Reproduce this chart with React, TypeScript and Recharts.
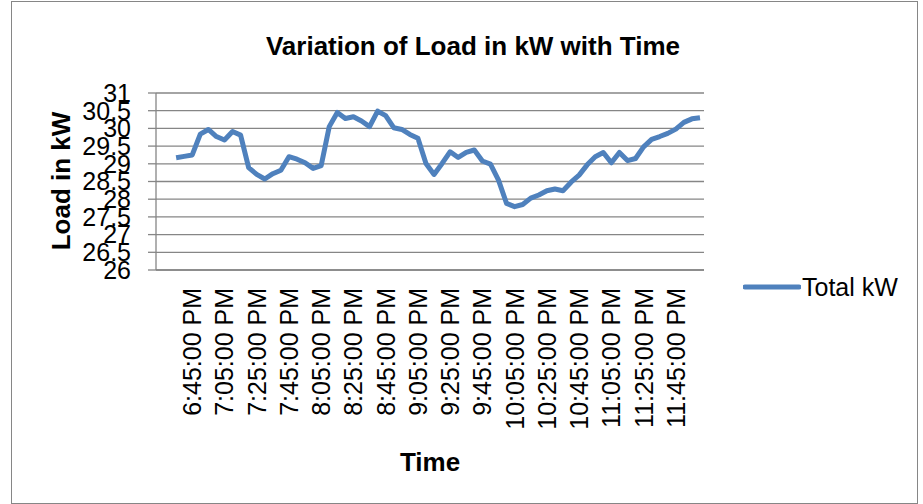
import { LineChart, Line, XAxis, YAxis, CartesianGrid, Legend } from "recharts";

// 5-minute readings, 6:25 PM to 12:00 AM (first two slots are empty)
const times = [
  "6:25:00 PM", "6:30:00 PM", "6:35:00 PM", "6:40:00 PM", "6:45:00 PM", "6:50:00 PM", "6:55:00 PM", "7:00:00 PM",
  "7:05:00 PM", "7:10:00 PM", "7:15:00 PM", "7:20:00 PM", "7:25:00 PM", "7:30:00 PM", "7:35:00 PM", "7:40:00 PM",
  "7:45:00 PM", "7:50:00 PM", "7:55:00 PM", "8:00:00 PM", "8:05:00 PM", "8:10:00 PM", "8:15:00 PM", "8:20:00 PM",
  "8:25:00 PM", "8:30:00 PM", "8:35:00 PM", "8:40:00 PM", "8:45:00 PM", "8:50:00 PM", "8:55:00 PM", "9:00:00 PM",
  "9:05:00 PM", "9:10:00 PM", "9:15:00 PM", "9:20:00 PM", "9:25:00 PM", "9:30:00 PM", "9:35:00 PM", "9:40:00 PM",
  "9:45:00 PM", "9:50:00 PM", "9:55:00 PM", "10:00:00 PM", "10:05:00 PM", "10:10:00 PM", "10:15:00 PM", "10:20:00 PM",
  "10:25:00 PM", "10:30:00 PM", "10:35:00 PM", "10:40:00 PM", "10:45:00 PM", "10:50:00 PM", "10:55:00 PM", "11:00:00 PM",
  "11:05:00 PM", "11:10:00 PM", "11:15:00 PM", "11:20:00 PM", "11:25:00 PM", "11:30:00 PM", "11:35:00 PM", "11:40:00 PM",
  "11:45:00 PM", "11:50:00 PM", "11:55:00 PM", "12:00:00 AM",
];

const totalKw = [
  null, null, 29.17, 29.21, 29.25, 29.84, 29.97, 29.77,
  29.67, 29.91, 29.81, 28.89, 28.70, 28.57, 28.72, 28.82,
  29.20, 29.13, 29.03, 28.87, 28.95, 30.05, 30.45, 30.28,
  30.33, 30.21, 30.05, 30.49, 30.36, 30.02, 29.97, 29.83,
  29.72, 29.01, 28.70, 29.01, 29.34, 29.18, 29.32, 29.39,
  29.08, 28.99, 28.54, 27.88, 27.79, 27.85, 28.03, 28.12,
  28.24, 28.29, 28.24, 28.48, 28.68, 28.97, 29.20, 29.32,
  29.03, 29.32, 29.09, 29.15, 29.48, 29.69, 29.77, 29.86,
  29.98, 30.17, 30.27, 30.30,
];

// labels Excel actually printed on the category axis
const shownTimes = [
  "6:45:00 PM", "7:05:00 PM", "7:25:00 PM", "7:45:00 PM", "8:05:00 PM", "8:25:00 PM", "8:45:00 PM", "9:05:00 PM",
  "9:25:00 PM", "9:45:00 PM", "10:05:00 PM", "10:25:00 PM", "10:45:00 PM", "11:05:00 PM", "11:25:00 PM", "11:45:00 PM",
];

const yTicks = [26, 26.5, 27, 27.5, 28, 28.5, 29, 29.5, 30, 30.5, 31];

const data = times.map((t, i) => ({ time: t, total: totalKw[i] }));

const FONT = "'Liberation Sans', Arial, sans-serif";
const GRID = "#868686";
const BLUE = "#4F81BD";

const TimeTick = (props: any) => {
  const { x, y, payload } = props;
  if (!shownTimes.includes(payload.value)) return null;
  return (
    <text
      x={x}
      y={y}
      transform={`rotate(-90, ${x}, ${y})`}
      textAnchor="end"
      dominantBaseline="central"
      fontFamily={FONT}
      fontSize={25}
      fill="#000"
    >
      {payload.value}
    </text>
  );
};

const renderLegend = (props: any) => (
  <div style={{ fontFamily: FONT }}>
    {props.payload.map((entry: any) => (
      <div key={entry.value} style={{ display: "flex", alignItems: "center" }}>
        <svg width={58} height={10}>
          <line x1={2} y1={5} x2={56} y2={5} stroke={BLUE} strokeWidth={5} strokeLinecap="round" />
        </svg>
        <span style={{ fontSize: 25, color: "#000", marginLeft: 1, lineHeight: "30px" }}>{entry.value}</span>
      </div>
    ))}
  </div>
);

export default function App() {
  return (
    <div style={{ position: "absolute", left: 0, top: 0, width: 923, height: 504, background: "#fff", fontFamily: FONT }}>
      <div style={{ position: "absolute", left: 11, top: 1, width: 905, height: 501, border: `1px solid ${GRID}` }} />
      <div
        style={{
          position: "absolute", left: 0, width: 946, top: 31, textAlign: "center",
          fontSize: 26, fontWeight: "bold", lineHeight: "30px", color: "#000",
        }}
      >
        Variation of Load in kW with Time
      </div>
      <div
        style={{
          position: "absolute", left: 61, top: 181, transform: "translate(-50%, -50%) rotate(-90deg)",
          fontSize: 26, fontWeight: "bold", whiteSpace: "nowrap", lineHeight: "30px", color: "#000",
        }}
      >
        Load in kW
      </div>
      <div
        style={{
          position: "absolute", left: 430, top: 462, transform: "translate(-50%, -50%)",
          fontSize: 26, fontWeight: "bold", lineHeight: "30px", color: "#000",
        }}
      >
        Time
      </div>
      <LineChart
        width={923}
        height={504}
        data={data}
        margin={{ top: 93, right: 219, bottom: 0, left: 0 }}
        style={{ position: "absolute", left: 0, top: 0 }}
      >
        <CartesianGrid vertical={false} stroke={GRID} strokeWidth={1.3} />
        <XAxis
          dataKey="time"
          interval={0}
          height={234}
          padding={{ left: 4, right: 4 }}
          tickLine={false}
          tickSize={0}
          tickMargin={18}
          axisLine={{ stroke: GRID, strokeWidth: 1.3 }}
          tick={<TimeTick />}
        />
        <YAxis
          type="number"
          domain={[26, 31]}
          ticks={yTicks}
          interval={0}
          width={156}
          tickSize={8}
          tickMargin={17}
          axisLine={{ stroke: GRID, strokeWidth: 1.3 }}
          tickLine={{ stroke: GRID, strokeWidth: 1.3 }}
          tick={{ fontFamily: FONT, fontSize: 25, fill: "#000" }}
        />
        <Legend
          content={renderLegend}
          layout="horizontal"
          align="center"
          verticalAlign="middle"
          wrapperStyle={{ left: 743, top: 272, width: 180 }}
        />
        <Line
          type="linear"
          dataKey="total"
          name="Total kW"
          stroke={BLUE}
          strokeWidth={5}
          strokeLinejoin="round"
          dot={false}
          isAnimationActive={false}
        />
      </LineChart>
    </div>
  );
}
